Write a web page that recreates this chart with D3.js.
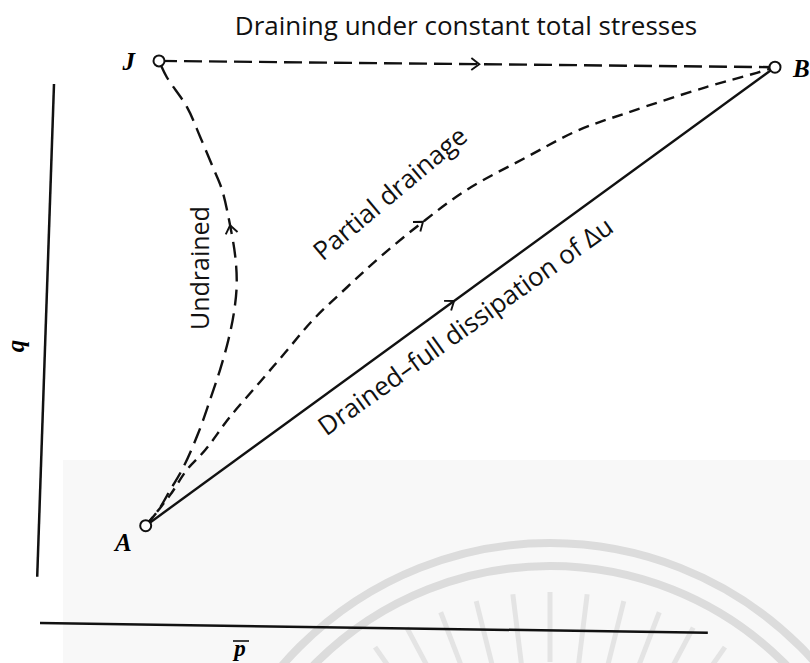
<!DOCTYPE html>
<html>
<head>
<meta charset="utf-8">
<script src="https://cdn.jsdelivr.net/npm/d3@7/dist/d3.min.js"></script>
<style>
  body { margin: 0; background: #fff; }
  svg { display: block; }
</style>
</head>
<body>
<div id="chart"></div>
<script>
//Puntos de la trayectoria de tensiones (p', q), unidades arbitrarias
const pointNames = ['A', 'J', 'B'];
const pointP = [1.51, 1.70, 10.50];
const pointQ = [1.49, 8.13, 8.04];

//Trayectoria no drenada, de A a J
const undrainedP = [1.51, 1.69, 1.86, 2.04, 2.26, 2.43, 2.57, 2.69, 2.77, 2.81, 2.79, 2.71, 2.60, 2.47, 2.29, 2.10, 1.81, 1.70];
const undrainedQ = [1.49, 1.71, 2.00, 2.31, 2.81, 3.29, 3.71, 4.14, 4.53, 4.93, 5.33, 5.81, 6.29, 6.61, 7.04, 7.47, 7.90, 8.13];

//Drenaje parcial, de A a B
const partialP = [1.51, 1.86, 2.10, 2.36, 2.71, 3.14, 3.50, 3.90, 4.39, 4.86, 5.47, 6.10, 6.96, 7.67, 8.39, 9.53, 10.24, 10.50];
const partialQ = [1.49, 1.93, 2.29, 2.57, 3.04, 3.54, 3.96, 4.43, 4.90, 5.33, 5.83, 6.29, 6.76, 7.13, 7.39, 7.76, 7.96, 8.04];

//Ejes (tal como aparecen, algo inclinados)
const qAxisP = [0.20, -0.04];
const qAxisQ = [7.80, 0.76];
const pAxisP = [0.00, 9.54];
const pAxisQ = [0.10, -0.04];

//Textos
const title = 'Draining under constant total stresses';
const labelUndrained = 'Undrained';
const labelPartial = 'Partial drainage';
const labelDrained = 'Drained\u2013full dissipation of \u0394u';

let width = 810, height = 663;

let svg = d3.select('#chart')
    .append('svg')
    .attr('width', width)
    .attr('height', height);

let x = d3.scaleLinear().domain([0, 10]).range([40, 740]);
let y = d3.scaleLinear().domain([0, 8]).range([630, 70]);

let pt = function(name) {
    let i = pointNames.indexOf(name);
    return [pointP[i], pointQ[i]];
};

//Fondo del escaneo (zona gris y marca de agua)
svg.append('rect')
    .attr('x', 63).attr('y', 460)
    .attr('width', width - 63).attr('height', height - 460)
    .attr('fill', '#f8f8f8');

let wm = svg.append('g').attr('transform', 'translate(550,897)');
[354, 331].forEach(function(r) {
    wm.append('circle').attr('r', r)
        .attr('fill', 'none').attr('stroke', '#dcdcdc').attr('stroke-width', 8);
});
d3.range(-160, -15, 7).forEach(function(a) {
    let t = a * Math.PI / 180;
    wm.append('line')
        .attr('x1', 235 * Math.cos(t)).attr('y1', 235 * Math.sin(t))
        .attr('x2', 305 * Math.cos(t)).attr('y2', 305 * Math.sin(t))
        .attr('stroke', '#e4e4e4').attr('stroke-width', 5);
});

//Ejes
let axisLine = d3.line().x(function(d) { return x(d[0]); }).y(function(d) { return y(d[1]); });
svg.append('path')
    .attr('d', axisLine(d3.zip(qAxisP, qAxisQ)))
    .attr('stroke', '#111').attr('stroke-width', 2.5).attr('fill', 'none');
svg.append('path')
    .attr('d', axisLine(d3.zip(pAxisP, pAxisQ)))
    .attr('stroke', '#111').attr('stroke-width', 2.5).attr('fill', 'none');

svg.append('text')
    .attr('transform', 'translate(24,346) rotate(-90)')
    .attr('text-anchor', 'middle')
    .attr('font-family', 'Liberation Serif')
    .attr('font-style', 'italic')
    .attr('font-weight', 'bold')
    .attr('font-size', 25)
    .text('q');

svg.append('text')
    .attr('x', 240).attr('y', 656)
    .attr('text-anchor', 'middle')
    .attr('font-family', 'Liberation Serif')
    .attr('font-style', 'italic')
    .attr('font-weight', 'bold')
    .attr('font-size', 23)
    .text('p');
svg.append('line')
    .attr('x1', 233).attr('x2', 249).attr('y1', 641).attr('y2', 641)
    .attr('stroke', '#111').attr('stroke-width', 1.6);

//Trayectorias
let curve = d3.line()
    .x(function(d) { return x(d[0]); })
    .y(function(d) { return y(d[1]); })
    .curve(d3.curveCatmullRom);

let paths = [
    { pts: [pt('J'), pt('B')], dash: '18,7', arrow: 0.52 },
    { pts: d3.zip(undrainedP, undrainedQ), dash: '16,8', arrow: 0.64 },
    { pts: d3.zip(partialP, partialQ), dash: '11,7', arrow: 0.516 },
    { pts: [pt('A'), pt('B')], dash: null, arrow: 0.49 }
];

paths.forEach(function(p) {
    let el = svg.append('path')
        .attr('d', curve(p.pts))
        .attr('fill', 'none')
        .attr('stroke', '#111')
        .attr('stroke-width', 2.4)
        .attr('stroke-dasharray', p.dash);

    //Flecha abierta en el sentido de la trayectoria
    let node = el.node();
    let len = node.getTotalLength() * p.arrow;
    let a = node.getPointAtLength(len);
    let b = node.getPointAtLength(len + 2);
    let ang = Math.atan2(b.y - a.y, b.x - a.x) * 180 / Math.PI;
    svg.append('path')
        .attr('d', 'M-8,-6L0,0L-8,6')
        .attr('transform', 'translate(' + a.x + ',' + a.y + ') rotate(' + ang + ')')
        .attr('fill', 'none')
        .attr('stroke', '#111')
        .attr('stroke-width', 1.9);
});

//Puntos
svg.selectAll('circle.pt')
    .data(pointNames)
    .enter()
    .append('circle')
    .attr('class', 'pt')
    .attr('cx', function(d) { return x(pt(d)[0]); })
    .attr('cy', function(d) { return y(pt(d)[1]); })
    .attr('r', 5.5)
    .attr('fill', '#fff')
    .attr('stroke', '#111')
    .attr('stroke-width', 2);

let ptLabel = { A: [-14, 25, 'end'], J: [-24, 9, 'end'], B: [18, 10, 'start'] };
svg.selectAll('text.pt')
    .data(pointNames)
    .enter()
    .append('text')
    .attr('class', 'pt')
    .attr('x', function(d) { return x(pt(d)[0]) + ptLabel[d][0]; })
    .attr('y', function(d) { return y(pt(d)[1]) + ptLabel[d][1]; })
    .attr('text-anchor', function(d) { return ptLabel[d][2]; })
    .attr('font-family', 'Liberation Serif')
    .attr('font-style', 'italic')
    .attr('font-weight', 'bold')
    .attr('font-size', 25)
    .text(function(d) { return d; });

//Rótulos
let labelFont = function(sel) {
    sel.attr('font-family', 'Open Sans').attr('font-size', 26).attr('fill', '#111');
};

svg.append('text')
    .attr('x', 466).attr('y', 35)
    .attr('text-anchor', 'middle')
    .call(labelFont)
    .text(title);

svg.append('text')
    .attr('transform', 'translate(' + x(2.41) + ',' + y(5.17) + ') rotate(-90)')
    .attr('text-anchor', 'middle')
    .call(labelFont)
    .attr('font-size', 25)
    .text(labelUndrained);

svg.append('text')
    .attr('transform', 'translate(' + x(4.04) + ',' + y(5.26) + ') rotate(-40)')
    .call(labelFont)
    .text(labelPartial);

svg.append('text')
    .attr('transform', 'translate(' + x(4.09) + ',' + y(2.76) + ') rotate(-35.5)')
    .call(labelFont)
    .text(labelDrained);
</script>
</body>
</html>
